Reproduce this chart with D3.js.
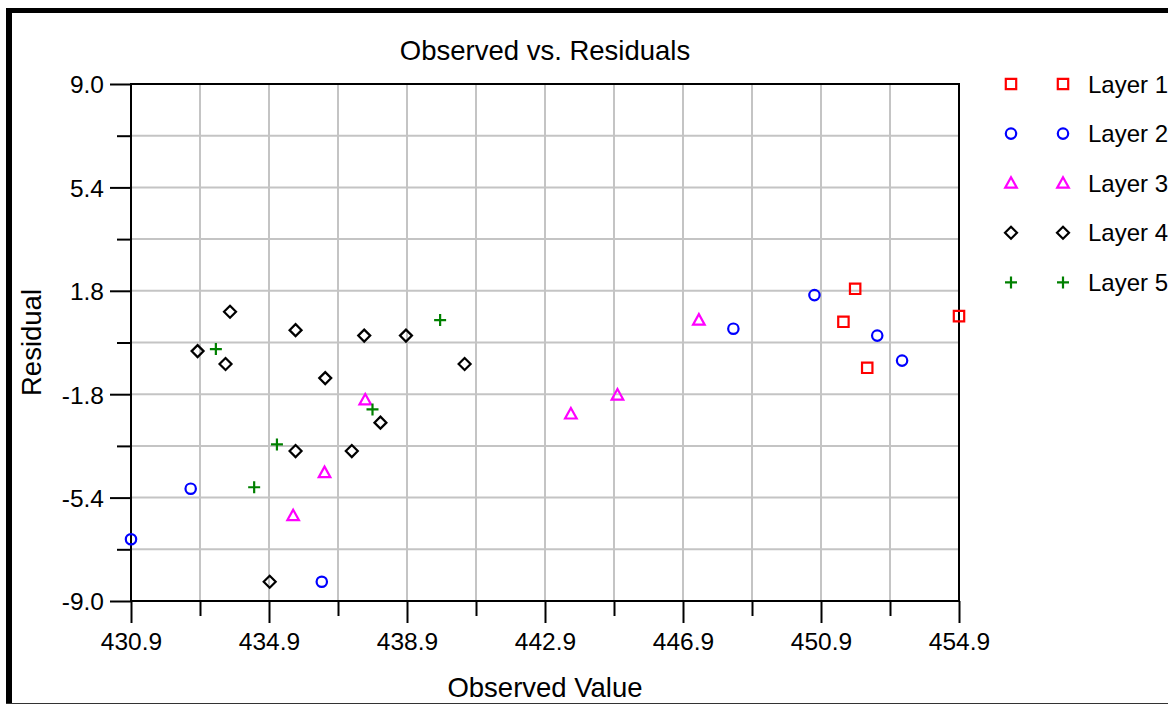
<!DOCTYPE html>
<html>
<head>
<meta charset="utf-8">
<script src="https://cdn.jsdelivr.net/npm/d3@7"></script>
<style>
  body { margin: 0; background: #fff; }
  text { font-family: "Liberation Sans", Arial, sans-serif; fill: #000; }
</style>
</head>
<body>
<script>
// data
const layerNames = ["Layer 1", "Layer 2", "Layer 3", "Layer 4", "Layer 5"];

const layer1X = [451.89, 451.55, 452.24, 454.9];
const layer1Y = [1.87, 0.72, -0.88, 0.92];

const layer2X = [430.9, 432.63, 436.43, 448.36, 450.71, 452.53, 453.25];
const layer2Y = [-6.85, -5.09, -8.33, 0.48, 1.65, 0.24, -0.63];

const layer3X = [435.6, 436.51, 437.69, 443.65, 445.0, 447.36];
const layer3Y = [-6.03, -4.53, -2.0, -2.49, -1.83, 0.78];

const layer4X = [432.83, 433.64, 433.77, 434.92, 435.67, 435.67, 436.53, 437.3, 437.66, 438.13, 438.87, 440.57];
const layer4Y = [-0.3, -0.75, 1.07, -8.33, 0.43, -3.78, -1.24, -3.78, 0.24, -2.79, 0.24, -0.75];

const layer5X = [433.36, 434.47, 435.13, 437.9, 439.86];
const layer5Y = [-0.23, -5.04, -3.55, -2.33, 0.78];

const xTicks = [430.9, 434.9, 438.9, 442.9, 446.9, 450.9, 454.9];
const xMinor = [432.9, 436.9, 440.9, 444.9, 448.9, 452.9];
const yTicks = [9.0, 5.4, 1.8, -1.8, -5.4, -9.0];
const yMinor = [7.2, 3.6, 0, -3.6, -7.2];

// set up
const W = 1168, H = 704;
const margin = {top: 84, right: 209, bottom: 103, left: 131},
    width = W - margin.left - margin.right,
    height = H - margin.top - margin.bottom;

const svg = d3.select("body").append("svg")
    .attr("width", W)
    .attr("height", H);

svg.append("rect").attr("width", W).attr("height", H).attr("fill", "#fff");

// outer frame (cropped screenshot look)
svg.append("line").attr("x1", 6).attr("x2", W).attr("y1", 10.5).attr("y2", 10.5)
    .attr("stroke", "#000").attr("stroke-width", 5);
svg.append("line").attr("x1", 9).attr("x2", 9).attr("y1", 8).attr("y2", H)
    .attr("stroke", "#000").attr("stroke-width", 6);
svg.append("line").attr("x1", 6).attr("x2", W).attr("y1", 703.5).attr("y2", 703.5)
    .attr("stroke", "#333").attr("stroke-width", 1);

const g = svg.append("g")
    .attr("transform", "translate(" + margin.left + "," + margin.top + ")");

const x = d3.scaleLinear().domain([430.9, 454.9]).range([0, width]);
const y = d3.scaleLinear().domain([-9, 9]).range([height, 0]);

// plain hyphen for negatives, like the original
const fmt = d => d.toFixed(1);

// grid
const gridX = xMinor.concat(xTicks.slice(1, -1));
const gridY = yMinor.concat(yTicks.slice(1, -1));
g.selectAll(".gx").data(gridX).join("line")
    .attr("x1", d => x(d)).attr("x2", d => x(d))
    .attr("y1", 0).attr("y2", height)
    .attr("stroke", "#c4c4c4").attr("stroke-width", 2);
g.selectAll(".gy").data(gridY).join("line")
    .attr("x1", 0).attr("x2", width)
    .attr("y1", d => y(d)).attr("y2", d => y(d))
    .attr("stroke", "#c4c4c4").attr("stroke-width", 2);

// axes
const xAxis = g.append("g")
    .attr("transform", "translate(0," + height + ")")
    .call(d3.axisBottom(x).tickValues(xTicks).tickSize(22).tickPadding(10).tickFormat(fmt));
const xAxisMinor = g.append("g")
    .attr("transform", "translate(0," + height + ")")
    .call(d3.axisBottom(x).tickValues(xMinor).tickSize(15).tickFormat(""));
const yAxis = g.append("g")
    .call(d3.axisLeft(y).tickValues(yTicks).tickSize(21).tickPadding(6).tickFormat(fmt));
const yAxisMinor = g.append("g")
    .call(d3.axisLeft(y).tickValues(yMinor).tickSize(14).tickFormat(""));

[xAxis, xAxisMinor, yAxis, yAxisMinor].forEach(a => {
    a.select(".domain").remove();
    a.selectAll("line").attr("stroke", "#000").attr("stroke-width", 2);
    a.selectAll("text").attr("font-size", 24.5)
        .attr("font-family", "Liberation Sans, Arial, sans-serif").attr("fill", "#000");
});
yAxis.selectAll("text").attr("dy", "0.36em");

// plot frame
g.append("rect")
    .attr("width", width).attr("height", height)
    .attr("fill", "none").attr("stroke", "#000").attr("stroke-width", 2);

// titles
svg.append("text")
    .attr("x", margin.left + width / 2).attr("y", 60)
    .attr("text-anchor", "middle").attr("font-size", 27.5)
    .text("Observed vs. Residuals");
svg.append("text")
    .attr("x", margin.left + width / 2).attr("y", 697)
    .attr("text-anchor", "middle").attr("font-size", 27.5)
    .text("Observed Value");
svg.append("text")
    .attr("transform", "translate(41," + (margin.top + height / 2) + ") rotate(-90)")
    .attr("text-anchor", "middle").attr("font-size", 27.5)
    .text("Residual");

// marker shapes
const s = 5.2;
const shapes = {
    square: "M" + (-s) + "," + (-s) + "H" + s + "V" + s + "H" + (-s) + "Z",
    circle: "M" + (-s) + ",0A" + s + "," + s + " 0 1,0 " + s + ",0A" + s + "," + s + " 0 1,0 " + (-s) + ",0Z",
    triangle: "M0,-6L5.8,4.5L-5.8,4.5Z",
    diamond: "M0,-6L6,0L0,6L-6,0Z",
    cross: "M-6,0H6M0,-6V6"
};

const layers = [
    {xs: layer1X, ys: layer1Y, shape: "square", color: "#ff0000"},
    {xs: layer2X, ys: layer2Y, shape: "circle", color: "#0000ff"},
    {xs: layer3X, ys: layer3Y, shape: "triangle", color: "#ff00ff"},
    {xs: layer4X, ys: layer4Y, shape: "diamond", color: "#000000"},
    {xs: layer5X, ys: layer5Y, shape: "cross", color: "#008000"}
];

layers.forEach(L => {
    g.append("g").selectAll("path")
        .data(L.xs.map((v, i) => ({x: v, y: L.ys[i]})))
        .join("path")
        .attr("transform", d => "translate(" + x(d.x) + "," + y(d.y) + ")")
        .attr("d", shapes[L.shape])
        .attr("fill", "none")
        .attr("stroke", L.color)
        .attr("stroke-width", 2.2);
});

// legend
const legend = svg.append("g").attr("transform", "translate(0,84)");
layers.forEach((L, i) => {
    const row = legend.append("g").attr("transform", "translate(0," + (i * 49.6) + ")");
    [1011, 1063].forEach(px => {
        row.append("path")
            .attr("transform", "translate(" + px + ",0)")
            .attr("d", shapes[L.shape])
            .attr("fill", "none").attr("stroke", L.color).attr("stroke-width", 2.2);
    });
    row.append("text")
        .attr("x", 1088).attr("y", 0).attr("dy", "0.36em")
        .attr("font-size", 24)
        .text(layerNames[i]);
});
</script>
</body>
</html>
